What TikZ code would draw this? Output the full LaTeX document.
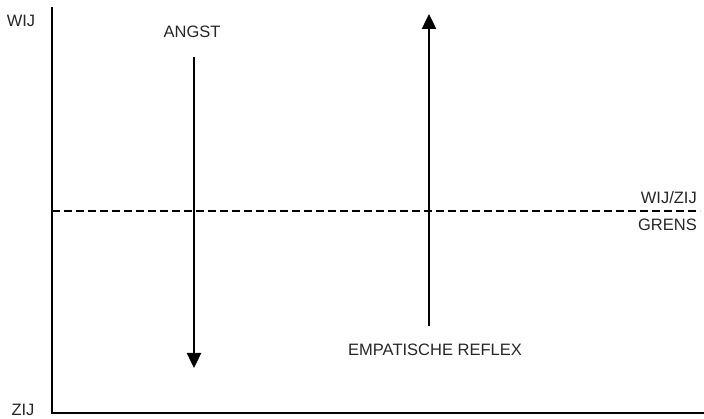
\documentclass[tikz,border=0pt]{standalone}
\usepackage{fontspec}
\setmainfont{Liberation Sans}
\usetikzlibrary{arrows.meta}
\begin{document}
\begin{tikzpicture}[x=1pt,y=-1pt,
  lbl/.style={inner sep=0pt,text=black!85,font=\fontsize{16.5}{18}\selectfont},
  axis/.style={line width=2.6pt},
  arr/.style={line width=2.4pt,-{Triangle[length=15pt,width=14pt]}},
  border/.style={draw=none}]
\useasboundingbox (0,0) rectangle (704,419);
\coordinate (top) at (52,7);
\coordinate (origin) at (52,413);
\coordinate (right) at (704,413);
\coordinate (dl) at (52,211);
\coordinate (dr) at (700,211);
\draw[axis] (top) -- (origin) -- (right);
\draw[line width=2pt,dash pattern=on 8pt off 4pt] (dl) -- (dr);
\node[lbl] (wij) at (21,21) {WIJ};
\node[lbl] (zij) at (23,410) {ZIJ};
\node[lbl] (angst) at (192,32) {ANGST};
\node[lbl] (emp) at (435,350) {EMPATISCHE REFLEX};
\node[lbl,anchor=east] (wz) at (697,198) {WIJ/ZIJ};
\node[lbl,anchor=east] (grens) at (697,225) {GRENS};
\coordinate (a1) at (194,57);
\coordinate (a2) at (194,368);
\coordinate (b1) at (429,326);
\coordinate (b2) at (429,14);
\draw[arr] (a1) -- (a2);
\draw[arr] (b1) -- (b2);
\end{tikzpicture}
\end{document}
